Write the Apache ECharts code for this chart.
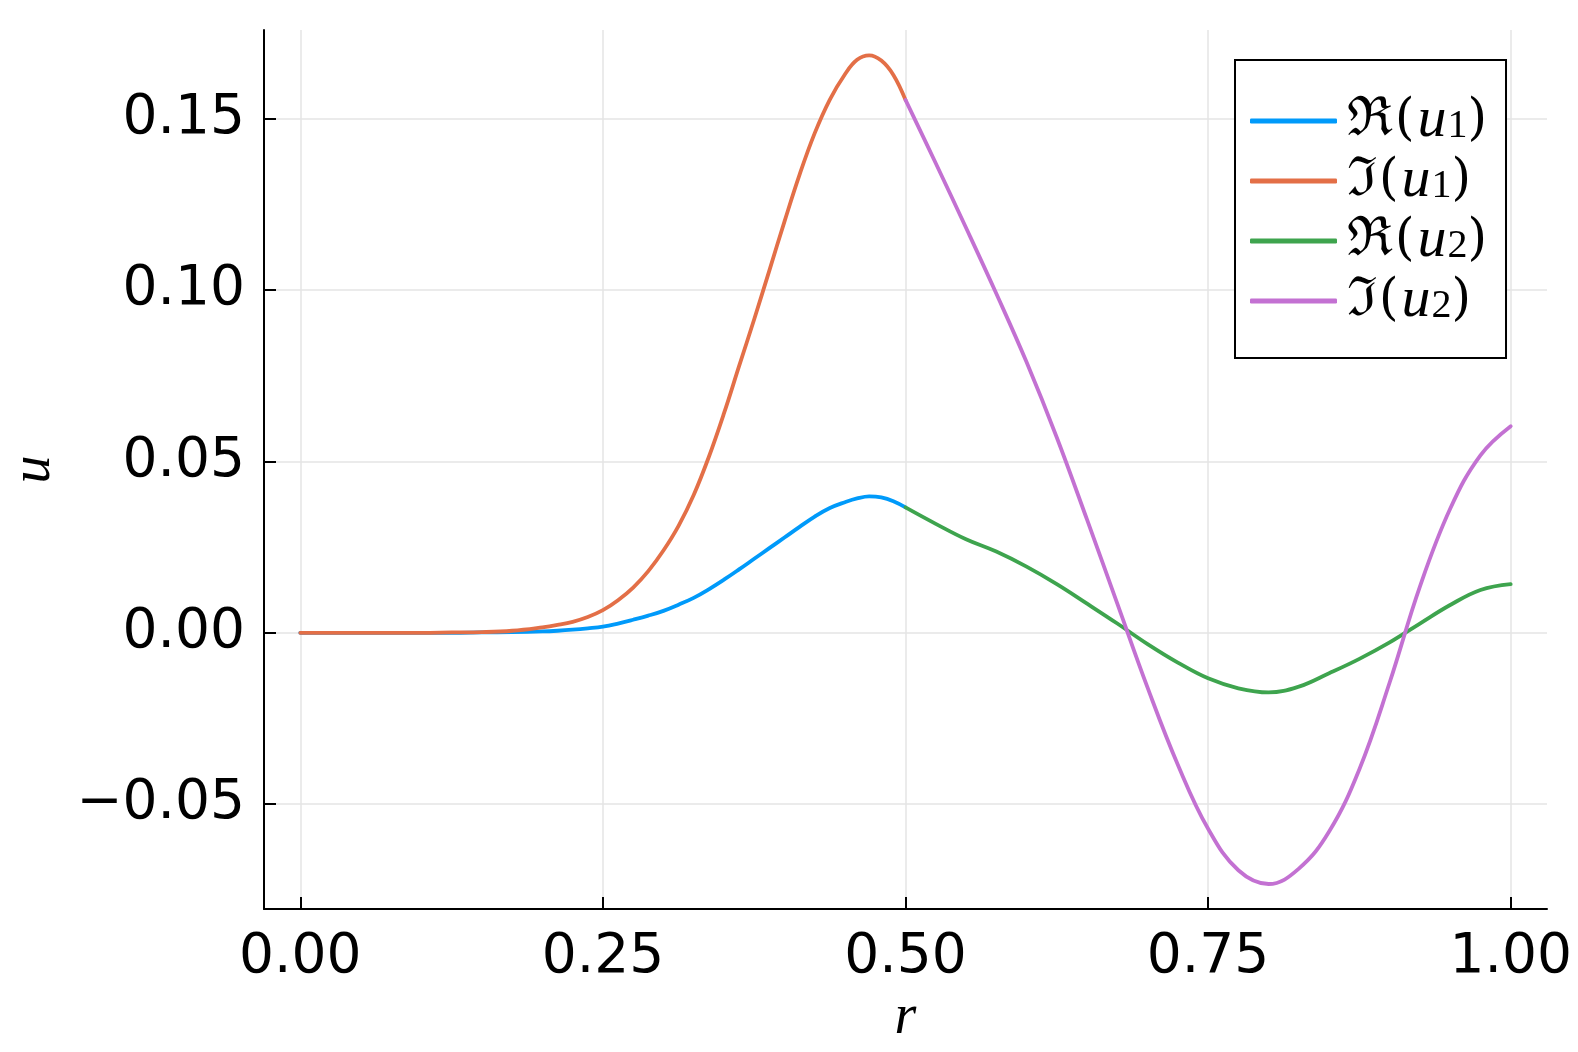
<!DOCTYPE html>
<html>
<head>
<meta charset="utf-8">
<script src="https://cdn.jsdelivr.net/npm/echarts@6/dist/echarts.min.js"></script>
<style>
html,body{margin:0;padding:0;background:#fff;}
#chart{width:1578px;height:1052px;}
</style>
</head>
<body>
<div id="chart"></div>
<script>
// ---- data ----
const rU1 = [0, 0.025, 0.05, 0.075, 0.1, 0.125, 0.15, 0.175, 0.2, 0.2125, 0.225, 0.2375, 0.25, 0.2625, 0.275, 0.2875, 0.3, 0.3125, 0.325, 0.3375, 0.35, 0.3625, 0.375, 0.3875, 0.4, 0.4125, 0.425, 0.4375, 0.45, 0.46, 0.47, 0.48, 0.49, 0.5];
const reU1 = [0, 0, 0, 0, 0, 0, 0.0001, 0.0002, 0.0004, 0.0006, 0.0009, 0.0013, 0.0018, 0.0027, 0.0038, 0.0050, 0.0064, 0.0082, 0.0102, 0.0127, 0.0155, 0.0185, 0.0216, 0.0247, 0.0278, 0.0309, 0.0339, 0.0364, 0.0381, 0.0392, 0.0398, 0.0395, 0.0384, 0.0366];
const imU1 = [0, 0, 0, 0, 0, 0.0001, 0.0002, 0.0006, 0.0016, 0.0023, 0.0032, 0.0046, 0.0066, 0.0095, 0.0132, 0.0180, 0.0240, 0.0312, 0.0402, 0.0513, 0.0640, 0.0778, 0.0915, 0.1057, 0.1200, 0.1337, 0.1458, 0.1556, 0.1630, 0.1672, 0.1685, 0.1670, 0.1628, 0.1555];
const rU2 = [0.5, 0.525, 0.55, 0.575, 0.6, 0.625, 0.65, 0.675, 0.7, 0.725, 0.75, 0.775, 0.8, 0.825, 0.85, 0.875, 0.9, 0.925, 0.95, 0.975, 1.0];
const reU2 = [0.0366, 0.0318, 0.0273, 0.0237, 0.0193, 0.0142, 0.0085, 0.0027, -0.0033, -0.0087, -0.0133, -0.0162, -0.0174, -0.0157, -0.0118, -0.0076, -0.0028, 0.0027, 0.0081, 0.0125, 0.0142];
const imU2 = [0.1555, 0.1370, 0.1182, 0.0990, 0.0790, 0.0570, 0.0330, 0.0085, -0.0160, -0.0385, -0.0572, -0.0693, -0.0733, -0.0688, -0.0580, -0.0398, -0.0145, 0.0135, 0.0362, 0.0518, 0.0603];

const xTicks = [0, 0.25, 0.5, 0.75, 1.0];
const yTicks = [-0.05, 0, 0.05, 0.10, 0.15];
const seriesNames = ['ℜ(u₁)', 'ℑ(u₁)', 'ℜ(u₂)', 'ℑ(u₂)'];
const legendLetters = ['ℜ', 'ℑ', 'ℜ', 'ℑ'];
const legendSubs = ['1', '1', '2', '2'];
const colors = ['#009AFA', '#E36F47', '#3EA44E', '#C371D2'];

function pairs(xs, ys) { return xs.map((x, i) => [x, ys[i]]); }
function fmt(v) { const s = Math.abs(v).toFixed(2); return v < -1e-9 ? '\u2212' + s : s; }

const chart = echarts.init(document.getElementById('chart'), null, {renderer: 'canvas'});

const seriesData = [pairs(rU1, reU1), pairs(rU1, imU1), pairs(rU2, reU2), pairs(rU2, imU2)];

const option = {
  backgroundColor: '#ffffff',
  animation: false,
  grid: {left: 264, top: 30, width: 1283, height: 879, containLabel: false, outerBoundsMode: 'none'},
  xAxis: {
    type: 'value', min: -0.03, max: 1.03,
    name: 'r', nameLocation: 'middle', nameGap: 72,
    nameTextStyle: {fontFamily: 'Liberation Serif', fontStyle: 'italic', fontSize: 56, color: '#000'},
    axisLine: {show: true, onZero: false, lineStyle: {color: '#000', width: 2}},
    axisTick: {show: true, inside: true, length: 12, customValues: xTicks, lineStyle: {color: '#000', width: 2}},
    axisLabel: {customValues: xTicks, formatter: fmt, fontFamily: 'DejaVu Sans', fontSize: 55, color: '#000', margin: 21},
    splitLine: {show: true, lineStyle: {color: '#e5e5e5', width: 1.5}}
  },
  yAxis: {
    type: 'value', min: -0.0806, max: 0.1759,
    name: 'u', nameLocation: 'middle', nameGap: 202, nameRotate: 90,
    nameTextStyle: {fontFamily: 'Liberation Serif', fontStyle: 'italic', fontSize: 56, color: '#000'},
    axisLine: {show: true, onZero: false, lineStyle: {color: '#000', width: 2}},
    axisTick: {show: true, inside: true, length: 12, customValues: yTicks, lineStyle: {color: '#000', width: 2}},
    axisLabel: {customValues: yTicks, formatter: fmt, fontFamily: 'DejaVu Sans', fontSize: 55, color: '#000', margin: 19},
    splitLine: {show: true, lineStyle: {color: '#e5e5e5', width: 1.5}}
  },
  legend: {
    orient: 'vertical', left: 1235, top: 60,
    padding: [32, 19, 28, 15],
    itemGap: 2, itemWidth: 87, itemHeight: 5, icon: 'roundRect',
    borderColor: '#000', borderWidth: 2, backgroundColor: '#fff',
    selectedMode: false,
    data: seriesNames,
    formatter: function (name) {
      const i = seriesNames.indexOf(name);
      return '{a|' + legendLetters[i] + '}{b|(}{c|u}{d|' + legendSubs[i] + '}{b|)}';
    },
    textStyle: {
      color: '#000', padding: [0, 0, 0, 5], lineHeight: 50, width: 132,
      rich: {
        a: {fontFamily: 'DejaVu Serif', fontSize: 54, lineHeight: 50, color: '#000', padding: [0, 2, 0, 0]},
        b: {fontFamily: 'DejaVu Serif', fontSize: 50, lineHeight: 50, color: '#000'},
        c: {fontFamily: 'Liberation Serif', fontStyle: 'italic', fontSize: 58, lineHeight: 50, color: '#000', padding: [0, 1, 0, 3]},
        d: {fontFamily: 'Liberation Serif', fontSize: 40, lineHeight: 50, verticalAlign: 'bottom', color: '#000'}
      }
    }
  },
  series: seriesData.map((d, i) => ({
    name: seriesNames[i], type: 'line', data: d, smooth: 0.4,
    showSymbol: false, symbol: 'none',
    lineStyle: {color: colors[i], width: 3.8, cap: 'round', join: 'round'},
    itemStyle: {color: colors[i]},
    z: 2 + i
  }))
};
chart.setOption(option);
</script>
</body>
</html>
